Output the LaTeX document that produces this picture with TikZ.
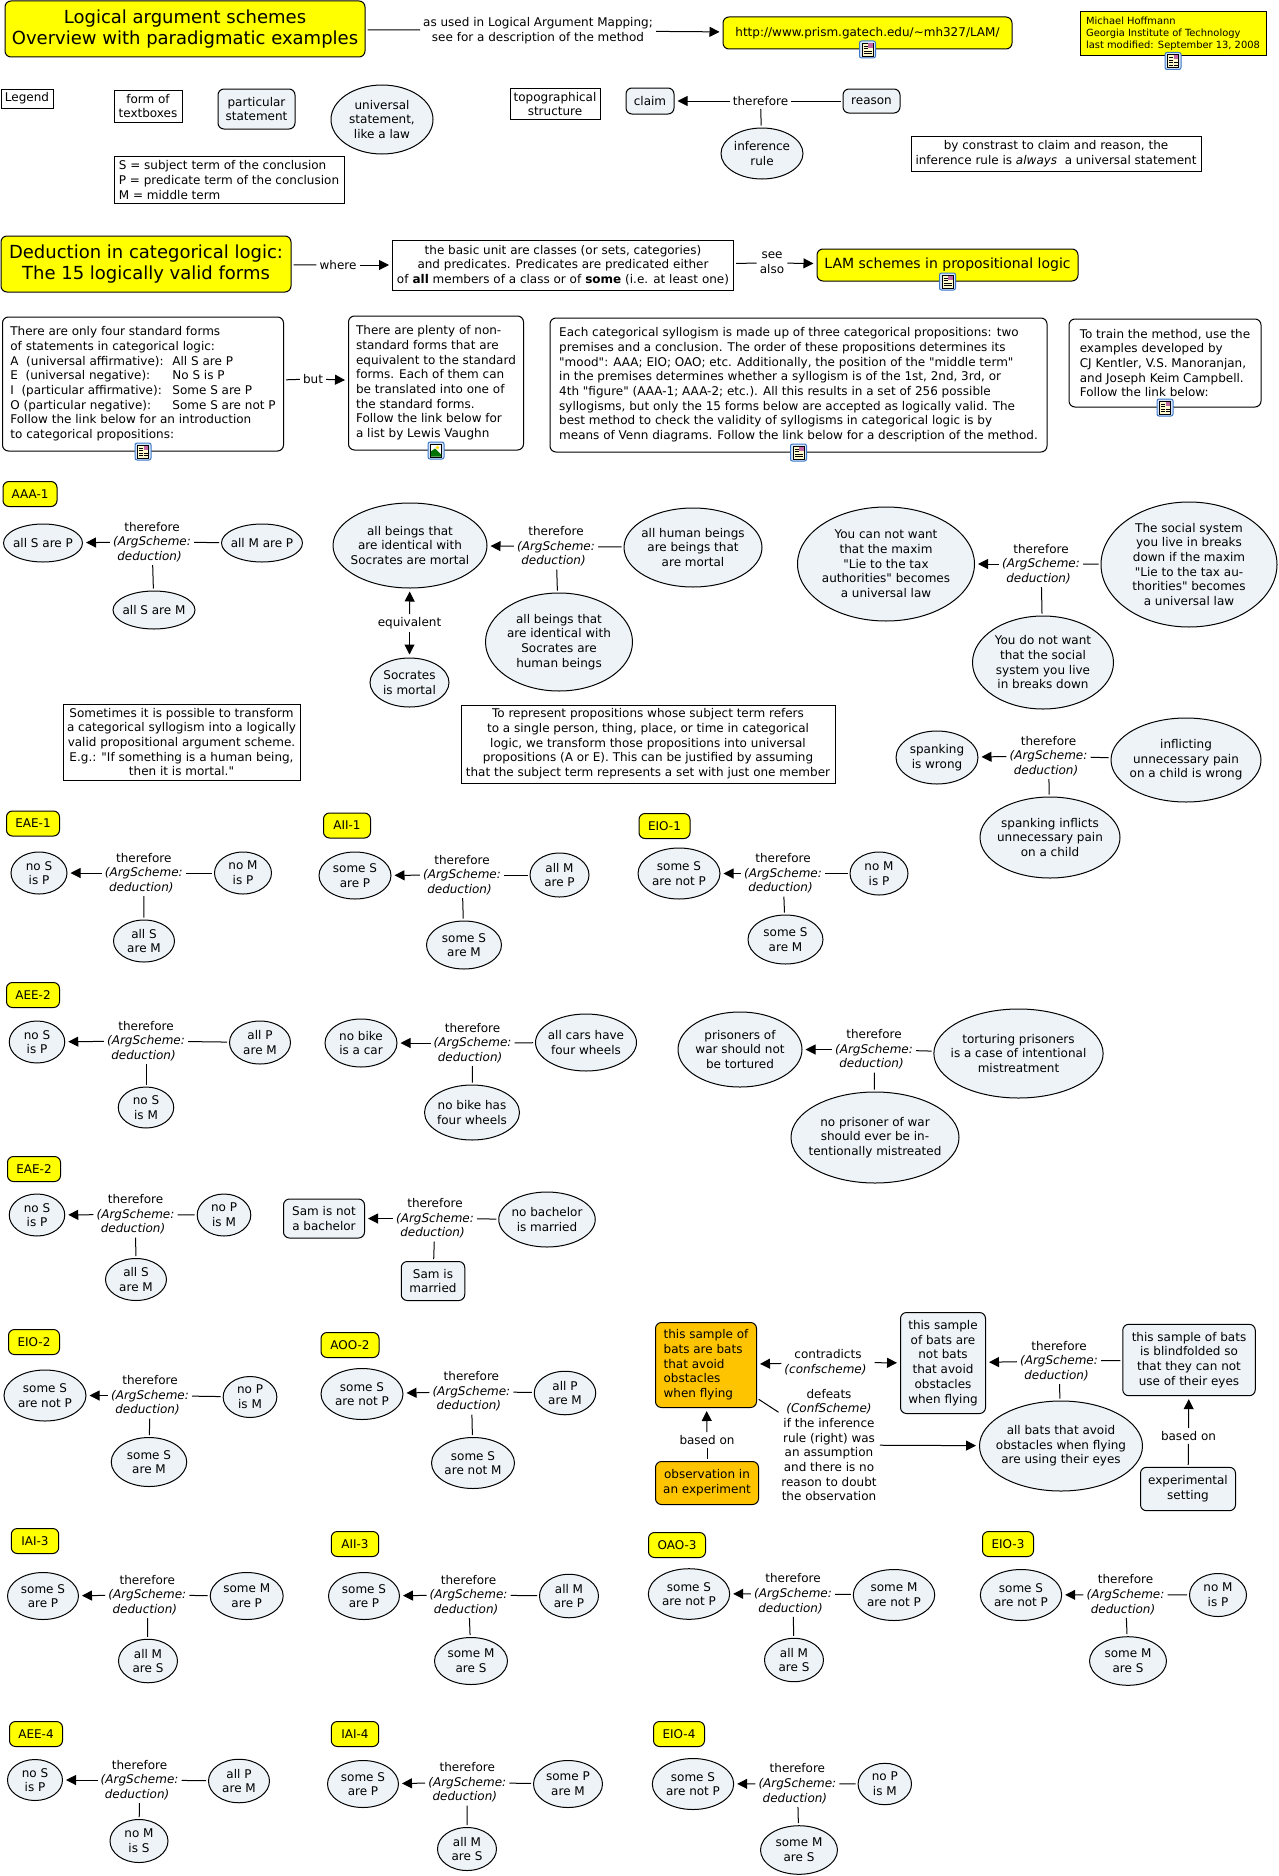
\documentclass[tikz,border=0pt]{standalone}
\usepackage{fontspec}
\setmainfont{DejaVu Sans}[Ligatures=TeXOff]
\usetikzlibrary{arrows.meta,shapes.geometric}
\definecolor{cm-yellow}{RGB}    {255, 255,   0}
\definecolor{cm-orange}{RGB}    {255, 196,   0}
\definecolor{cm-pale}{RGB}      {237, 243, 246}
\definecolor{cm-iconblue}{RGB}  { 60, 120, 200}
\definecolor{cm-iconpale}{RGB}  {214, 230, 250}
\definecolor{cm-iconcream}{RGB} {255, 250, 205}
\newcommand{\argtext}{therefore\\\textit{(ArgScheme:}\hspace*{5pt}\\\textit{deduction)}\hspace*{5pt}}
\tikzset{
	every node/.style={font=\fontsize{12}{14.67}\selectfont, text=black, align=center, inner sep=0pt},
	wh/.style 2 args={minimum width=#1pt, minimum height=#2pt},
	framebox/.style={draw, line width=1pt, rectangle},
	textbox/.style={draw, line width=1pt, rectangle, rounded corners=6pt},
	stmt/.style={draw, line width=1pt, rectangle, rounded corners=6pt, fill=cm-pale},
	law/.style={draw, line width=1pt, ellipse, fill=cm-pale, inner xsep=-8pt, inner ysep=-6pt},
	keybox/.style={draw, line width=1pt, rectangle, rounded corners=6pt, fill=cm-yellow},
	obsbox/.style={draw, line width=1pt, rectangle, rounded corners=6pt, fill=cm-orange},
	bigtext/.style={font=\fontsize{18}{21}\selectfont},
	linklab/.style={inner sep=1pt},
	leadline/.style={line width=1pt, shorten <=2pt, shorten >=2pt},
	leadarrow/.style={line width=1pt, shorten <=2pt, shorten >=3pt, -{Triangle[length=10pt,width=10pt]}},
	docicon/.pic={
		\draw[draw=cm-iconblue, fill=cm-iconpale, rounded corners=2pt, line width=1pt] (-8,-8.5) rectangle (8,8.5);
		\draw[fill=cm-iconcream, line width=.5pt] (-5.5,-6.5) rectangle (5.5,6.5);
		\fill[red!60!blue!60] (.5,-6) rectangle (5,-1.5);
		\foreach \ly in {-3.5,-1,1.5,4} \draw[line width=.7pt] (-4,\ly) -- (0,\ly);
		\draw[line width=.7pt] (.5,1.5) -- (4.5,1.5) (.5,4) -- (4.5,4);
	},
	landicon/.pic={
		\draw[draw=cm-iconblue, fill=cm-iconpale, rounded corners=2pt, line width=1pt] (-8,-8.5) rectangle (8,8.5);
		\draw[fill=white, line width=.5pt] (-5.5,-6.5) rectangle (5.5,6.5);
		\fill[green!45!black] (-5.2,6.2) -- (-5.2,1) -- (-1,-2) -- (5.2,4) -- (5.2,6.2) -- cycle;
		\fill[yellow!80!orange] (1.5,-3) circle (1.8);
	},
}

\begin{document}
\begin{tikzpicture}[x=1pt,y=-1pt]
\useasboundingbox (0,0) rectangle (1278,1876);

% head of the map
\node[keybox,bigtext,wh={360}{56}] (title) at (185,29) {Logical argument schemes\\Overview with paradigmatic examples};
\node[linklab] (usedlab) at (538,30.5) {as used in Logical Argument Mapping;\\see for a description of the method};
\node[keybox,wh={289}{32}] (prism) at (867.5,33) {http://www.prism.gatech.edu/\textasciitilde mh327/LAM/};
\node[framebox,fill=cm-yellow,wh={186}{44},align=left,font=\fontsize{9.9}{12}\selectfont] (author) at (1173,33.5) {Michael Hoffmann\\Georgia Institute of Technology\\last modified: September 13, 2008};
\draw[leadline] (title) -- (usedlab);
\draw[leadarrow] (usedlab) -- (prism);
\pic at (prism.south) {docicon};
\pic at ([yshift=-5pt]author.south) {docicon};

% legend
\node[framebox,wh={52}{19}] (legend) at (27,98.5) {Legend};
\node[framebox,wh={68}{32}] (form) at (148,106) {form of\\textboxes};
\node[stmt,wh={77}{40}] (partic) at (256.5,109) {particular\\statement};
\node[law,wh={102}{69}] (univ) at (382,119.5) {universal\\statement,\\like a law};
\node[framebox,wh={230}{47},align=left] (terms) at (229,180) {S = subject term of the conclusion\\P = predicate term of the conclusion\\M = middle term};
\node[framebox,wh={90}{31.5}] (topo) at (555,104) {topographical\\structure};
\node[stmt,wh={48}{26}] (claim) at (650,101) {claim};
\node[linklab] (inferlab) at (760.5,101) {therefore};
\node[stmt,wh={57}{24}] (reason) at (871.5,101) {reason};
\node[law,wh={82}{51}] (infer) at (762,153.5) {inference\\rule};
\node[framebox,wh={290}{35.5}] (contrast) at (1056,154) {by constrast to claim and reason, the\\inference rule is \textit{always}\ \ a universal statement};
\draw[leadarrow] (inferlab) -- (claim);
\draw[leadline] (inferlab) -- (reason);
\draw[leadline] (inferlab) -- (infer);

% deduction head and notes
\node[keybox,bigtext,wh={290}{56}] (deduct) at (146,264) {Deduction in categorical logic:\\The 15 logically valid forms};
\node[linklab] (wherelab) at (338,265) {where};
\node[framebox,wh={341}{50}] (basic) at (563,265) {the basic unit are classes (or sets, categories)\\and predicates. Predicates are predicated either\\of \textbf{all} members of a class or of \textbf{some} (i.e. at least one)};
\node[linklab] (seelab) at (772,263) {see\\also};
\node[keybox,wh={261}{32},font=\fontsize{14}{16}\selectfont] (lam) at (947.5,265) {LAM schemes in propositional logic};
\draw[leadline] (deduct) -- (wherelab);
\draw[leadarrow] (wherelab) -- (basic);
\draw[leadline] (basic) -- (seelab);
\draw[leadarrow] (seelab) -- (lam);
\pic at (lam.south) {docicon};
\node[textbox,wh={281}{134},align=left] (forms) at (143,384) {There are only four standard forms\\of statements in categorical logic:\\\makebox[162pt][l]{A\ \ (universal affirmative):}All S are P\\\makebox[162pt][l]{E\ \ (universal negative):}No S is P\\\makebox[162pt][l]{I\ \ (particular affirmative):}Some S are P\\\makebox[162pt][l]{O (particular negative):}Some S are not P\\Follow the link below for an introduction\\to categorical propositions:};
\node[linklab] (butlab) at (313,379) {but};
\node[textbox,wh={175}{134},align=left] (plenty) at (436,383) {There are plenty of non-\\standard forms that are\\equivalent to the standard\\forms. Each of them can\\be translated into one of\\the standard forms.\\Follow the link below for\\a list by Lewis Vaughn};
\node[textbox,wh={497}{134},align=left] (each) at (798.5,385) {Each categorical syllogism is made up of three categorical propositions: two\\premises and a conclusion. The order of these propositions determines its\\"mood": AAA; EIO; OAO; etc. Additionally, the position of the "middle term"\\in the premises determines whether a syllogism is of the 1st, 2nd, 3rd, or\\4th "figure" (AAA-1; AAA-2; etc.). All this results in a set of 256 possible\\syllogisms, but only the 15 forms below are accepted as logically valid. The\\best method to check the validity of syllogisms in categorical logic is by\\means of Venn diagrams. Follow the link below for a description of the method.};
\node[textbox,wh={192}{88},align=left] (train) at (1165,363) {To train the method, use the\\examples developed by\\CJ Kentler, V.S. Manoranjan,\\and Joseph Keim Campbell.\\Follow the link below:};
\draw[leadline] (forms) -- (butlab);
\draw[leadarrow] (butlab) -- (plenty);
\pic at (forms.south) {docicon};
\pic at (plenty.south) {landicon};
\pic at (each.south) {docicon};
\pic at (train.south) {docicon};

% AAA-1
\node[keybox,wh={54}{25}] (aaa) at (30,494) {AAA-1};
\node[law,wh={79}{38}] (aaaC) at (43,543) {all S are P};
\node[linklab] (aaaT) at (152,542) {\argtext};
\node[law,wh={81}{38}] (aaaR) at (262,543) {all M are P};
\node[law,wh={82}{38}] (aaaM) at (154,610) {all S are M};
\draw[leadarrow] (aaaT) -- (aaaC);
\draw[leadline] (aaaT) -- (aaaR);
\draw[leadline] (aaaT) -- (aaaM);
\node[law,wh={154}{85}] (socC) at (410,545.5) {all beings that\\are identical with\\Socrates are mortal};
\node[linklab] (socT) at (556,546.5) {\argtext};
\node[law,wh={138}{79}] (socR) at (693,547.5) {all human beings\\are beings that\\are mortal};
\node[law,wh={147}{98}] (socM) at (559,642) {all beings that\\are identical with\\Socrates are\\human beings};
\node[linklab] (eqlab) at (409.5,623) {equivalent};
\node[law,wh={79}{49}] (socE) at (409.5,682.5) {Socrates\\is mortal};
\draw[leadarrow] (socT) -- (socC);
\draw[leadline] (socT) -- (socR);
\draw[leadline] (socT) -- (socM);
\draw[leadarrow] (eqlab) -- (socC);
\draw[leadarrow] (eqlab) -- (socE);
\node[framebox,wh={237}{76}] (transform) at (181.5,742) {Sometimes it is possible to transform\\a categorical syllogism into a logically\\valid propositional argument scheme.\\E.g.: "If something is a human being,\\then it is mortal."};
\node[framebox,wh={374}{78}] (single) at (648,744) {To represent propositions whose subject term refers\\to a single person, thing, place, or time in categorical\\logic, we transform those propositions into universal\\propositions (A or E). This can be justified by assuming\\that the subject term represents a set with just one member};
\node[law,wh={177}{114}] (taxC) at (886,564) {You can not want\\that the maxim\\"Lie to the tax\\authorities" becomes\\a universal law};
\node[linklab] (taxT) at (1041,564) {\argtext};
\node[law,wh={176}{125}] (taxR) at (1189,564.5) {The social system\\you live in breaks\\down if the maxim\\"Lie to the tax au-\\thorities" becomes\\a universal law};
\node[law,wh={141}{93}] (taxM) at (1043,662.5) {You do not want\\that the social\\system you live\\in breaks down};
\draw[leadarrow] (taxT) -- (taxC);
\draw[leadline] (taxT) -- (taxR);
\draw[leadline] (taxT) -- (taxM);
\node[law,wh={82}{53}] (spankC) at (937,757.5) {spanking\\is wrong};
\node[linklab] (spankT) at (1048.5,756) {\argtext};
\node[law,wh={150}{84}] (spankR) at (1186,760) {inflicting\\unnecessary pain\\on a child is wrong};
\node[law,wh={140}{81}] (spankM) at (1050,837.5) {spanking inflicts\\unnecessary pain\\on a child};
\draw[leadarrow] (spankT) -- (spankC);
\draw[leadline] (spankT) -- (spankR);
\draw[leadline] (spankT) -- (spankM);

% EAE-1, AII-1, EIO-1
\node[keybox,wh={53}{25}] (eae) at (33,823.5) {EAE-1};
\node[law,wh={56}{42}] (eaeC) at (39,873) {no S\\is P};
\node[linklab] (eaeT) at (143.8,873) {\argtext};
\node[law,wh={57}{42}] (eaeR) at (243,873) {no M\\is P};
\node[law,wh={61}{42}] (eaeM) at (144,941) {all S\\are M};
\draw[leadarrow] (eaeT) -- (eaeC);
\draw[leadline] (eaeT) -- (eaeR);
\draw[leadline] (eaeT) -- (eaeM);
\node[keybox,wh={47}{25}] (aii) at (347,825.5) {AII-1};
\node[law,wh={72}{47}] (aiiC) at (355,875.5) {some S\\are P};
\node[linklab] (aiiT) at (462,875) {\argtext};
\node[law,wh={59}{44}] (aiiR) at (559.5,875) {all M\\are P};
\node[law,wh={75}{48}] (aiiM) at (464,945) {some S\\are M};
\draw[leadarrow] (aiiT) -- (aiiC);
\draw[leadline] (aiiT) -- (aiiR);
\draw[leadline] (aiiT) -- (aiiM);
\node[keybox,wh={51}{25}] (eio) at (664.5,826) {EIO-1};
\node[law,wh={82}{51}] (eioC) at (679,873.5) {some S\\are not P};
\node[linklab] (eioT) at (783,873.5) {\argtext};
\node[law,wh={58}{43}] (eioR) at (879,873.5) {no M\\is P};
\node[law,wh={75}{49}] (eioM) at (785.5,939.5) {some S\\are M};
\draw[leadarrow] (eioT) -- (eioC);
\draw[leadline] (eioT) -- (eioR);
\draw[leadline] (eioT) -- (eioM);

% AEE-2
\node[keybox,wh={53}{25}] (aee) at (33,995) {AEE-2};
\node[law,wh={55.5}{42}] (aeeC) at (37,1042) {no S\\is P};
\node[linklab] (aeeT) at (146,1041) {\argtext};
\node[law,wh={61}{43}] (aeeR) at (260,1042.5) {all P\\are M};
\node[law,wh={55.5}{41}] (aeeM) at (146,1107.5) {no S\\is M};
\draw[leadarrow] (aeeT) -- (aeeC);
\draw[leadline] (aeeT) -- (aeeR);
\draw[leadline] (aeeT) -- (aeeM);
\node[law,wh={72}{48}] (bikeC) at (361,1043) {no bike\\is a car};
\node[linklab] (bikeT) at (472.6,1043) {\argtext};
\node[law,wh={101}{57}] (bikeR) at (586,1042.5) {all cars have\\four wheels};
\node[law,wh={95}{55}] (bikeM) at (472,1112.5) {no bike has\\four wheels};
\draw[leadarrow] (bikeT) -- (bikeC);
\draw[leadline] (bikeT) -- (bikeR);
\draw[leadline] (bikeT) -- (bikeM);
\node[law,wh={124}{75}] (warC) at (740,1049.5) {prisoners of\\war should not\\be tortured};
\node[linklab] (warT) at (874,1049.5) {\argtext};
\node[law,wh={169}{89}] (warR) at (1018.5,1053.5) {torturing prisoners\\is a case of intentional\\mistreatment};
\node[law,wh={168}{91}] (warM) at (875,1137.5) {no prisoner of war\\should ever be in-\\tentionally mistreated};
\draw[leadarrow] (warT) -- (warC);
\draw[leadline] (warT) -- (warR);
\draw[leadline] (warT) -- (warM);

% EAE-2
\node[keybox,wh={53}{25}] (eaeb) at (34,1169) {EAE-2};
\node[law,wh={55.5}{42}] (eaebC) at (37,1215) {no S\\is P};
\node[linklab] (eaebT) at (135.5,1214.5) {\argtext};
\node[law,wh={53.6}{42}] (eaebR) at (224,1215) {no P\\is M};
\node[law,wh={61}{42}] (eaebM) at (136,1279.5) {all S\\are M};
\draw[leadarrow] (eaebT) -- (eaebC);
\draw[leadline] (eaebT) -- (eaebR);
\draw[leadline] (eaebT) -- (eaebM);
\node[stmt,wh={81}{39}] (samC) at (324,1218.5) {Sam is not\\a bachelor};
\node[linklab] (samT) at (435,1218.5) {\argtext};
\node[law,wh={96.5}{55}] (samR) at (547,1219.5) {no bachelor\\is married};
\node[stmt,wh={63.5}{39}] (samM) at (433,1281) {Sam is\\married};
\draw[leadarrow] (samT) -- (samC);
\draw[leadline] (samT) -- (samR);
\draw[leadline] (samT) -- (samM);

% EIO-2, AOO-2
\node[keybox,wh={51}{25}] (eiob) at (34,1342) {EIO-2};
\node[law,wh={82}{51}] (eiobC) at (45,1395.5) {some S\\are not P};
\node[linklab] (eiobT) at (150,1395.5) {\argtext};
\node[law,wh={53.7}{41}] (eiobR) at (250,1397) {no P\\is M};
\node[law,wh={75.5}{49}] (eiobM) at (149,1462) {some S\\are M};
\draw[leadarrow] (eiobT) -- (eiobC);
\draw[leadline] (eiobT) -- (eiobR);
\draw[leadline] (eiobT) -- (eiobM);
\node[keybox,wh={58}{25}] (aoo) at (350,1345) {AOO-2};
\node[law,wh={82}{51}] (aooC) at (362,1394) {some S\\are not P};
\node[linklab] (aooT) at (471.4,1391.5) {\argtext};
\node[law,wh={61.5}{43.5}] (aooR) at (565,1393) {all P\\are M};
\node[law,wh={83}{51}] (aooM) at (473,1463) {some S\\are not M};
\draw[leadarrow] (aooT) -- (aooC);
\draw[leadline] (aooT) -- (aooR);
\draw[leadline] (aooT) -- (aooM);

% the bats
\node[obsbox,wh={101}{85},align=left] (batsO) at (706,1365) {this sample of\\bats are bats\\that avoid\\obstacles\\when flying};
\node[linklab] (contra) at (828,1362.5) {contradicts\\\textit{(confscheme)}\hspace*{5pt}};
\node[stmt,wh={85}{101}] (batsC) at (943,1363) {this sample\\of bats are\\not bats\\that avoid\\obstacles\\when flying};
\node[linklab] (batsT) at (1059,1361) {\argtext};
\node[stmt,wh={132.5}{71.4}] (batsR) at (1189,1360) {this sample of bats\\is blindfolded so\\that they can not\\use of their eyes};
\node[law,wh={163}{90}] (batsM) at (1061,1446) {all bats that avoid\\obstacles when flying\\are using their eyes};
\node[linklab] (basedR) at (1188.5,1436) {based on};
\node[stmt,wh={95}{43.4}] (batsS) at (1188,1489) {experimental\\setting};
\node[linklab] (basedL) at (707,1440) {based on};
\node[obsbox,wh={103}{43}] (batsE) at (707,1483) {observation in\\an experiment};
\node[linklab] (defeat) at (829,1445) {defeats\\\textit{(ConfScheme)}\\if the inference\\rule (right) was\\an assumption\\and there is no\\reason to doubt\\the observation};
\draw[leadarrow] (contra) -- (batsO);
\draw[leadarrow] (contra) -- (batsC);
\draw[leadarrow] (batsT) -- (batsC);
\draw[leadline] (batsT) -- (batsR);
\draw[leadline] (batsT) -- (batsM);
\draw[leadarrow] (basedR) -- (batsR);
\draw[leadline] (basedR) -- (batsS);
\draw[leadarrow] (basedL) -- (batsO);
\draw[leadline] (basedL) -- (batsE);
\draw[leadline] (batsO) -- (defeat);
\draw[leadarrow] (defeat) -- (batsM);

% third figure
\node[keybox,wh={47.4}{25}] (iai) at (35,1541) {IAI-3};
\node[law,wh={71}{47}] (iaiC) at (43,1596) {some S\\are P};
\node[linklab] (iaiT) at (147.3,1595) {\argtext};
\node[law,wh={73}{47}] (iaiR) at (246.7,1596) {some M\\are P};
\node[law,wh={59}{43.5}] (iaiM) at (148,1661) {all M\\are S};
\draw[leadarrow] (iaiT) -- (iaiC);
\draw[leadline] (iaiT) -- (iaiR);
\draw[leadline] (iaiT) -- (iaiM);
\node[keybox,wh={47.4}{25}] (aiic) at (355,1544) {AII-3};
\node[law,wh={71}{47}] (aiicC) at (364,1596) {some S\\are P};
\node[linklab] (aiicT) at (468.6,1595) {\argtext};
\node[law,wh={59}{43.5}] (aiicR) at (569,1596) {all M\\are P};
\node[law,wh={73}{47}] (aiicM) at (471,1661) {some M\\are S};
\draw[leadarrow] (aiicT) -- (aiicC);
\draw[leadline] (aiicT) -- (aiicR);
\draw[leadline] (aiicT) -- (aiicM);
\node[keybox,wh={57}{25}] (oao) at (677,1545) {OAO-3};
\node[law,wh={81.4}{50.6}] (oaoC) at (689,1594) {some S\\are not P};
\node[linklab] (oaoT) at (793,1593.7) {\argtext};
\node[law,wh={81.5}{51}] (oaoR) at (894,1595) {some M\\are not P};
\node[law,wh={59}{43.4}] (oaoM) at (794,1660) {all M\\are S};
\draw[leadarrow] (oaoT) -- (oaoC);
\draw[leadline] (oaoT) -- (oaoR);
\draw[leadline] (oaoT) -- (oaoM);
\node[keybox,wh={51}{25}] (eioc) at (1008,1544) {EIO-3};
\node[law,wh={81.4}{51}] (eiocC) at (1021,1595) {some S\\are not P};
\node[linklab] (eiocT) at (1125.5,1594.7) {\argtext};
\node[law,wh={57}{43}] (eiocR) at (1218,1595) {no M\\is P};
\node[law,wh={77}{48.6}] (eiocM) at (1128,1661) {some M\\are S};
\draw[leadarrow] (eiocT) -- (eiocC);
\draw[leadline] (eiocT) -- (eiocR);
\draw[leadline] (eiocT) -- (eiocM);

% fourth figure
\node[keybox,wh={53}{25}] (aeed) at (36,1734) {AEE-4};
\node[law,wh={55}{41}] (aeedC) at (35,1780) {no S\\is P};
\node[linklab] (aeedT) at (139.6,1780) {\argtext};
\node[law,wh={61}{43.5}] (aeedR) at (239,1781) {all P\\are M};
\node[law,wh={58}{43}] (aeedM) at (139,1841) {no M\\is S};
\draw[leadarrow] (aeedT) -- (aeedC);
\draw[leadline] (aeedT) -- (aeedR);
\draw[leadline] (aeedT) -- (aeedM);
\node[keybox,wh={47.4}{25}] (iaid) at (355,1734) {IAI-4};
\node[law,wh={71}{47}] (iaidC) at (363,1784) {some S\\are P};
\node[linklab] (iaidT) at (467.3,1782.5) {\argtext};
\node[law,wh={69}{47}] (iaidR) at (568,1784) {some P\\are M};
\node[law,wh={59}{43}] (iaidM) at (467,1849) {all M\\are S};
\draw[leadarrow] (iaidT) -- (iaidC);
\draw[leadline] (iaidT) -- (iaidR);
\draw[leadline] (iaidT) -- (iaidM);
\node[keybox,wh={51}{25}] (eiod) at (679,1734) {EIO-4};
\node[law,wh={81.4}{51}] (eiodC) at (693,1784) {some S\\are not P};
\node[linklab] (eiodT) at (797.4,1783.7) {\argtext};
\node[law,wh={53.4}{41.4}] (eiodR) at (884.8,1784) {no P\\is M};
\node[law,wh={77}{48.6}] (eiodM) at (799,1850) {some M\\are S};
\draw[leadarrow] (eiodT) -- (eiodC);
\draw[leadline] (eiodT) -- (eiodR);
\draw[leadline] (eiodT) -- (eiodM);

\end{tikzpicture}
\end{document}
